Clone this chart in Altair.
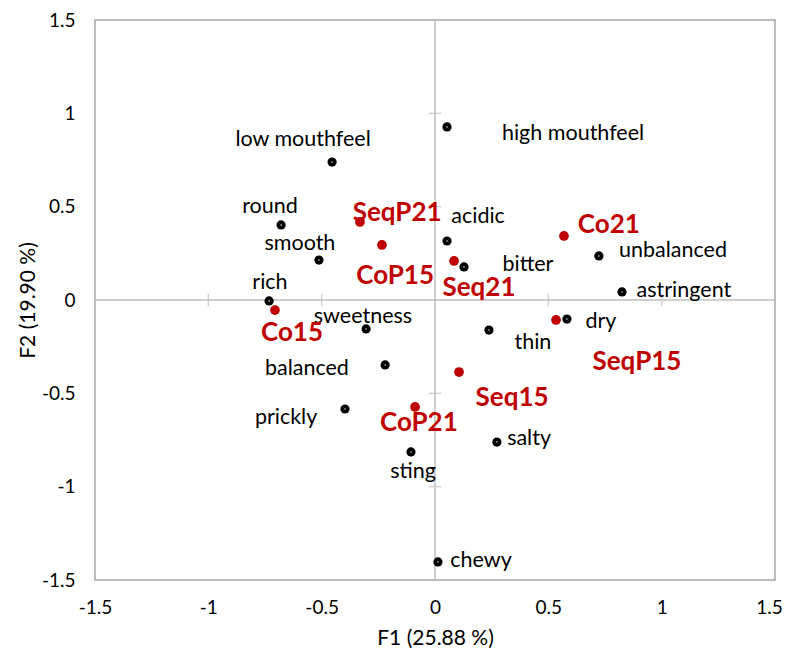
import altair as alt
import pandas as pd

# Attributes (black points)
attr_names = ["high mouthfeel", "low mouthfeel", "round", "smooth", "rich", "sweetness",
              "balanced", "prickly", "sting", "chewy", "salty", "thin", "dry",
              "astringent", "unbalanced", "bitter", "acidic"]
attr_x = [0.053, -0.454, -0.679, -0.512, -0.732, -0.304, -0.220, -0.397, -0.106, 0.013,
          0.273, 0.238, 0.582, 0.825, 0.723, 0.128, 0.053]
attr_y = [0.927, 0.739, 0.402, 0.214, -0.005, -0.155, -0.348, -0.584, -0.814, -1.403,
          -0.761, -0.161, -0.102, 0.043, 0.236, 0.177, 0.316]
attr_label_x = [0.609, -0.582, -0.728, -0.596, -0.728, -0.318, -0.565, -0.657, -0.097, 0.203,
                0.415, 0.432, 0.732, 1.098, 1.050, 0.410, 0.190]
attr_label_y = [0.889, 0.857, 0.498, 0.300, 0.091, -0.091, -0.370, -0.632, -0.921, -1.398,
                -0.745, -0.230, -0.118, 0.048, 0.262, 0.185, 0.445]

# Products (red points)
prod_names = ["SeqP21", "CoP15", "Seq21", "Co21", "SeqP15", "Seq15", "CoP21", "Co15"]
prod_x = [-0.331, -0.234, 0.084, 0.569, 0.534, 0.106, -0.088, -0.706]
prod_y = [0.418, 0.295, 0.209, 0.343, -0.107, -0.386, -0.573, -0.054]
prod_label_x = [-0.167, -0.176, 0.194, 0.767, 0.891, 0.340, -0.071, -0.631]
prod_label_y = [0.466, 0.129, 0.062, 0.402, -0.332, -0.525, -0.659, -0.177]

axis_ticks = [-1.5, -1, -0.5, 0, 0.5, 1, 1.5]
cross_ticks = [-1, -0.5, 0.5, 1]

FONT = "Lato"
RED = "#C00000"
label_expr = ("datum.value == 0 ? '0' : (datum.value < 0 ? '-' + format(abs(datum.value), '~g') "
              ": format(datum.value, '~g'))")

xscale = alt.Scale(domain=[-1.5, 1.5], nice=False, zero=False)
yscale = alt.Scale(domain=[-1.5, 1.5], nice=False, zero=False)

xaxis = alt.Axis(values=axis_ticks, labelExpr=label_expr, grid=False, ticks=False, domain=False,
                 labelFlush=False, labelOverlap=False,
                 labelOffset={"condition": {"test": "datum.value == 1.5", "value": -6}, "value": 0},
                 labelFont=FONT, labelFontSize=19, labelColor="#000000", labelPadding=18,
                 title="F1 (25.88 %)", titleFont=FONT, titleFontSize=21, titleFontWeight="normal",
                 titleColor="#000000", titlePadding=10)
yaxis = alt.Axis(values=axis_ticks, labelExpr=label_expr, grid=False, ticks=False, domain=False,
                 labelFlush=False, labelOverlap=False,
                 labelFont=FONT, labelFontSize=19, labelColor="#000000", labelPadding=20,
                 title="F2 (19.90 %)", titleFont=FONT, titleFontSize=21, titleFontWeight="normal",
                 titleColor="#000000", titlePadding=3)

attrs = pd.DataFrame({"name": attr_names, "x": attr_x, "y": attr_y,
                      "lx": attr_label_x, "ly": attr_label_y})
prods = pd.DataFrame({"name": prod_names, "x": prod_x, "y": prod_y,
                      "lx": prod_label_x, "ly": prod_label_y})

zero_df = pd.DataFrame({"v": [0]})
vline = alt.Chart(zero_df).mark_rule(color="#BFBFBF", strokeWidth=1.5).encode(
    x=alt.X("v:Q", scale=xscale, axis=xaxis))
hline = alt.Chart(zero_df).mark_rule(color="#BFBFBF", strokeWidth=1.5).encode(
    y=alt.Y("v:Q", scale=yscale, axis=yaxis))

ct = pd.DataFrame({"t": cross_ticks, "z": [0] * len(cross_ticks)})
vticks = alt.Chart(ct).mark_tick(orient="horizontal", color="#BFBFBF", thickness=1.5, size=12).encode(
    x=alt.X("z:Q", scale=xscale, axis=xaxis), y=alt.Y("t:Q", scale=yscale, axis=yaxis))
hticks = alt.Chart(ct).mark_tick(orient="vertical", color="#BFBFBF", thickness=1.5, size=12).encode(
    x=alt.X("t:Q", scale=xscale, axis=xaxis), y=alt.Y("z:Q", scale=yscale, axis=yaxis))

enc_pt = dict(x=alt.X("x:Q", scale=xscale, axis=xaxis), y=alt.Y("y:Q", scale=yscale, axis=yaxis))
enc_lb = dict(x=alt.X("lx:Q", scale=xscale, axis=xaxis), y=alt.Y("ly:Q", scale=yscale, axis=yaxis),
              text="name:N")

attr_pts = alt.Chart(attrs).mark_circle(color="#000000", size=85, opacity=1).encode(**enc_pt)
attr_ctr = alt.Chart(attrs).mark_circle(color="#FFFFFF", size=2, opacity=1).encode(**enc_pt)
attr_lbl = alt.Chart(attrs).mark_text(font=FONT, fontSize=21.5, color="#000000",
                                      align="center", baseline="middle").encode(**enc_lb)

prod_pts = alt.Chart(prods).mark_circle(color=RED, size=95, opacity=1).encode(**enc_pt)
prod_lbl = alt.Chart(prods).mark_text(font=FONT, fontSize=26, fontWeight="bold", color=RED,
                                      align="center", baseline="middle").encode(**enc_lb)

chart = alt.layer(vline, hline, vticks, hticks, attr_pts, attr_ctr, prod_pts, attr_lbl, prod_lbl).properties(
    width=680, height=560,
    autosize=alt.AutoSizeParams(type="none"),
    padding={"left": 87, "top": 12, "right": 8, "bottom": 69},
    background="#FFFFFF",
).configure_view(stroke="#A6A6A6", strokeWidth=1.5)

chart.save("out.html", embed_options={"renderer": "svg", "actions": False})
